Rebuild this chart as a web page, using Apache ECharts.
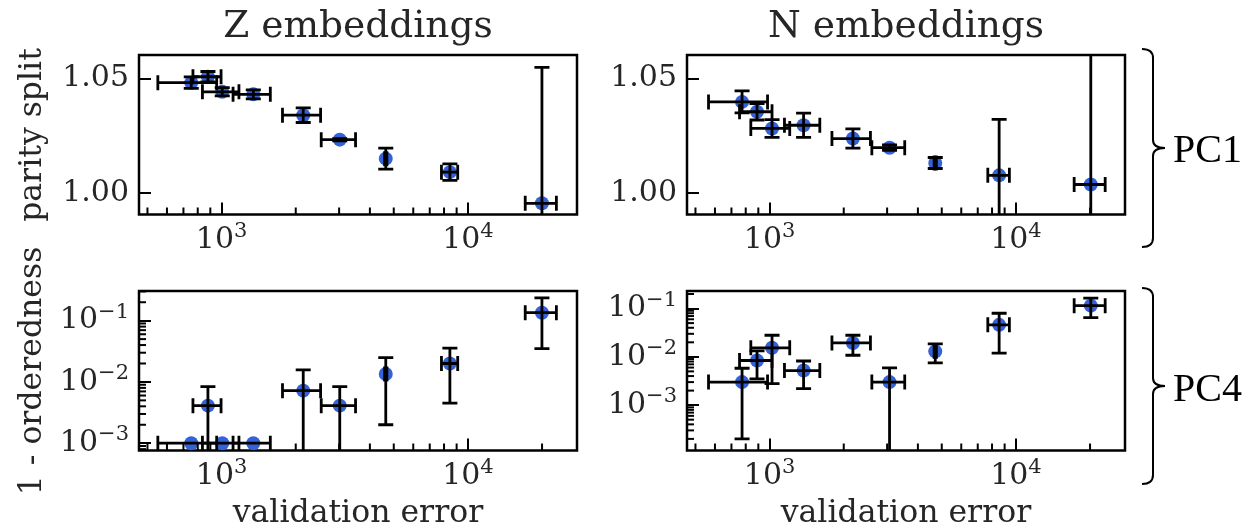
<!DOCTYPE html>
<html>
<head>
<meta charset="utf-8">
<script src="https://cdn.jsdelivr.net/npm/echarts@6/dist/echarts.min.js"></script>
<style>
  html, body { margin: 0; padding: 0; background: #fff; }
  #main { width: 1254px; height: 530px; }
</style>
</head>
<body>
<div id="main"></div>
<script>
// validation error (x) and its spread, Z and N embeddings
var zValErr   = [753, 880, 1006, 1345, 2145, 3018, 4640, 8450, 19980];
var zValErrSd = [202, 115, 170, 232, 378, 480, 50, 640, 2890];
var nValErr   = [773, 889, 1023, 1374, 2179, 3069, 4705, 8550, 20140];
var nValErrSd = [208, 134, 184, 225, 388, 468, 50, 860, 2900];

// PC1 : parity split
var zParity    = [1.0481, 1.0507, 1.0441, 1.0430, 1.0339, 1.0232, 1.0149, 1.0090, 0.9954];
var zParityErr = [0.0025, 0.0023, 0.0018, 0.0020, 0.0032, 0.0005, 0.0046, 0.0036, 0.0594];
var nParity    = [1.0397, 1.0354, 1.0281, 1.0295, 1.0237, 1.0197, 1.0130, 1.0076, 1.0036];
var nParityErr = [0.0048, 0.0036, 0.0039, 0.0053, 0.0042, 0.0012, 0.0024, 0.0245, 0.1200];

// PC4 : 1 - orderedness
var zOrder    = [0.0010, 0.0041, 0.0010, 0.0010, 0.0072, 0.0041, 0.0135, 0.0200, 0.135];
var zOrderErr = [0, 0.0043, 0, 0, 0.0085, 0.0043, 0.0115, 0.0155, 0.100];
var nOrder    = [0.0030, 0.0084, 0.0154, 0.0052, 0.0194, 0.0030, 0.0130, 0.0460, 0.115];
var nOrderErr = [0.0028, 0.0049, 0.0126, 0.0030, 0.0086, 0.0029, 0.0055, 0.0340, 0.050];

// axis ranges and minor ticks
var xRange = [462, 27730];
var parityRange = [0.9905, 1.0602];
var zOrderRange = [0.00076, 0.305];
var nOrderRange = [0.000115, 0.231];
var xMinorTicks = [500, 600, 700, 800, 900, 2000, 3000, 4000, 5000, 6000, 7000, 8000, 9000, 20000];
var zOrderMinorTicks = [0.0008, 0.0009, 0.002, 0.003, 0.004, 0.005, 0.006, 0.007, 0.008, 0.009,
  0.02, 0.03, 0.04, 0.05, 0.06, 0.07, 0.08, 0.09, 0.2, 0.3];
var nOrderMinorTicks = [0.0002, 0.0003, 0.0004, 0.0005, 0.0006, 0.0007, 0.0008, 0.0009,
  0.002, 0.003, 0.004, 0.005, 0.006, 0.007, 0.008, 0.009,
  0.02, 0.03, 0.04, 0.05, 0.06, 0.07, 0.08, 0.09, 0.2];

var FONT = 'DejaVu Serif';
var dotColor = '#3462d8';
var inkColor = '#262626';

var chart = echarts.init(document.getElementById('main'), null, {renderer: 'canvas'});

function pow10Label(v) {
  var e = Math.log10(v);
  var r = Math.round(e);
  if (Math.abs(e - r) > 1e-6) return '';
  return '{b|10}{s|' + (r < 0 ? '\u2212' + (-r) : r) + '}';
}
var powRich = {
  b: {fontFamily: FONT, fontSize: 30, lineHeight: 38, color: inkColor},
  s: {fontFamily: FONT, fontSize: 21, lineHeight: 21, verticalAlign: 'top', color: inkColor}
};

function xAxisCfg(i) {
  return {
    type: 'log', gridIndex: i, min: xRange[0], max: xRange[1],
    axisLine: {show: false},
    splitLine: {show: false},
    axisTick: {show: true, inside: true, length: 12, lineStyle: {color: '#000', width: 2}},
    axisLabel: {margin: 7, formatter: pow10Label, rich: powRich, showMinLabel: false, showMaxLabel: false}
  };
}
function parityAxis(i) {
  return {
    type: 'value', gridIndex: i, min: parityRange[0], max: parityRange[1],
    minInterval: 0.05, maxInterval: 0.05,
    axisLine: {show: false},
    splitLine: {show: false},
    axisTick: {show: true, inside: true, length: 12, lineStyle: {color: '#000', width: 2}},
    axisLabel: {
      margin: 10, fontFamily: FONT, fontSize: 30, color: inkColor,
      showMinLabel: false, showMaxLabel: false,
      formatter: function (v) {
        var k = v / 0.05;
        return Math.abs(k - Math.round(k)) < 1e-6 ? v.toFixed(2) : '';
      }
    }
  };
}
function orderAxis(i, range) {
  return {
    type: 'log', gridIndex: i, min: range[0], max: range[1],
    axisLine: {show: false},
    splitLine: {show: false},
    axisTick: {show: true, inside: true, length: 12, lineStyle: {color: '#000', width: 2}},
    axisLabel: {margin: 10, formatter: pow10Label, rich: powRich, showMinLabel: false, showMaxLabel: false}
  };
}

// error bars, drawn over the dots
function errorBar(params, api) {
  var x = api.value(0), y = api.value(1), xe = api.value(2), ye = api.value(3);
  var st = {stroke: '#000', lineWidth: 2.8};
  var cap = 7.5;
  var kids = [];
  if (ye > 0) {
    var lo = y - ye > 0 ? y - ye : y * 1e-3;
    var t = api.coord([x, y + ye]);
    var b = api.coord([x, lo]);
    kids.push({type: 'line', shape: {x1: t[0], y1: t[1], x2: b[0], y2: b[1]}, style: st});
    kids.push({type: 'line', shape: {x1: t[0] - cap, y1: t[1], x2: t[0] + cap, y2: t[1]}, style: st});
    kids.push({type: 'line', shape: {x1: b[0] - cap, y1: b[1], x2: b[0] + cap, y2: b[1]}, style: st});
  }
  if (xe > 0) {
    var l = api.coord([x - xe, y]);
    var r = api.coord([x + xe, y]);
    kids.push({type: 'line', shape: {x1: l[0], y1: l[1], x2: r[0], y2: r[1]}, style: st});
    kids.push({type: 'line', shape: {x1: l[0], y1: l[1] - cap, x2: l[0], y2: l[1] + cap}, style: st});
    kids.push({type: 'line', shape: {x1: r[0], y1: r[1] - cap, x2: r[0], y2: r[1] + cap}, style: st});
  }
  return {type: 'group', children: kids};
}
function xMinorTick(params, api) {
  var p = api.coord([api.value(0), api.value(1)]);
  return {type: 'line', shape: {x1: p[0], y1: p[1], x2: p[0], y2: p[1] - 7},
    style: {stroke: '#000', lineWidth: 2}};
}
function yMinorTick(params, api) {
  var p = api.coord([api.value(0), api.value(1)]);
  return {type: 'line', shape: {x1: p[0], y1: p[1], x2: p[0] + 7, y2: p[1]},
    style: {stroke: '#000', lineWidth: 2}};
}

function panelSeries(i, xs, xsd, ys, ysd, yMin, yMinor) {
  var list = [];
  list.push({
    type: 'scatter', xAxisIndex: i, yAxisIndex: i, z: 2,
    symbol: 'circle', symbolSize: 14, itemStyle: {color: dotColor, opacity: 1},
    data: xs.map(function (v, k) { return [v, ys[k]]; })
  });
  list.push({
    type: 'custom', xAxisIndex: i, yAxisIndex: i, z: 3, clip: true,
    renderItem: errorBar, encode: {x: 0, y: 1},
    data: xs.map(function (v, k) { return [v, ys[k], xsd[k], ysd[k]]; })
  });
  list.push({
    type: 'custom', xAxisIndex: i, yAxisIndex: i, z: 4, silent: true,
    renderItem: xMinorTick, encode: {x: 0, y: 1},
    data: xMinorTicks.map(function (v) { return [v, yMin]; })
  });
  if (yMinor) {
    list.push({
      type: 'custom', xAxisIndex: i, yAxisIndex: i, z: 4, silent: true,
      renderItem: yMinorTick, encode: {x: 0, y: 1},
      data: yMinor.map(function (v) { return [xRange[0], v]; })
    });
  }
  return list;
}

var gridStyle = {show: true, borderColor: '#000', borderWidth: 2.5, backgroundColor: 'transparent'};

function txt(text, x, y, size, opts) {
  var o = {
    type: 'text', x: x, y: y, silent: true,
    style: {text: text, fontFamily: (opts && opts.family) || FONT, fontSize: size,
      fill: (opts && opts.color) || inkColor,
      textAlign: (opts && opts.align) || 'center', textVerticalAlign: 'middle'}
  };
  if (opts && opts.rotation) o.rotation = opts.rotation;
  return o;
}
// right curly brace grouping a row of panels
function brace(y0, y1) {
  var m = (y0 + y1) / 2;
  var st = {stroke: '#000', lineWidth: 2, fill: null};
  function q(x1, y1_, cx, cy, x2, y2) {
    return {type: 'bezierCurve', silent: true,
      shape: {x1: x1, y1: y1_, cpx1: cx, cpy1: cy, x2: x2, y2: y2}, style: st};
  }
  function ln(x1, y1_, x2, y2) {
    return {type: 'line', silent: true, shape: {x1: x1, y1: y1_, x2: x2, y2: y2}, style: st};
  }
  return [
    q(1142, y0, 1153, y0, 1153, y0 + 9),
    ln(1153, y0 + 9, 1153, m - 8),
    q(1153, m - 8, 1153, m, 1165, m),
    q(1165, m, 1153, m, 1153, m + 8),
    ln(1153, m + 8, 1153, y1 - 9),
    q(1153, y1 - 9, 1153, y1, 1142, y1)
  ];
}

var option = {
  animation: false,
  grid: [
    Object.assign({left: 139, top: 55, width: 438, height: 159.5}, gridStyle),
    Object.assign({left: 687, top: 55, width: 438, height: 159.5}, gridStyle),
    Object.assign({left: 139, top: 291, width: 438, height: 159.5}, gridStyle),
    Object.assign({left: 687, top: 291, width: 438, height: 159.5}, gridStyle)
  ],
  xAxis: [xAxisCfg(0), xAxisCfg(1), xAxisCfg(2), xAxisCfg(3)],
  yAxis: [parityAxis(0), parityAxis(1), orderAxis(2, zOrderRange), orderAxis(3, nOrderRange)],
  series: [].concat(
    panelSeries(0, zValErr, zValErrSd, zParity, zParityErr, parityRange[0], null),
    panelSeries(1, nValErr, nValErrSd, nParity, nParityErr, parityRange[0], null),
    panelSeries(2, zValErr, zValErrSd, zOrder, zOrderErr, zOrderRange[0], zOrderMinorTicks),
    panelSeries(3, nValErr, nValErrSd, nOrder, nOrderErr, nOrderRange[0], nOrderMinorTicks)
  ),
  graphic: [
    txt('Z embeddings', 358, 27, 37.5),
    txt('N embeddings', 906, 27, 37.5),
    txt('validation error', 358, 514, 31.5),
    txt('validation error', 906, 514, 31.5),
    txt('parity split', 33, 135, 31.5, {rotation: Math.PI / 2}),
    txt('1 - orderedness', 33, 371, 31.5, {rotation: Math.PI / 2}),
    txt('PC1', 1173, 151, 40, {align: 'left', family: 'Liberation Serif', color: '#000'}),
    txt('PC4', 1173, 390, 40, {align: 'left', family: 'Liberation Serif', color: '#000'})
  ].concat(brace(49, 247), brace(288, 484))
};
chart.setOption(option);
</script>
</body>
</html>
